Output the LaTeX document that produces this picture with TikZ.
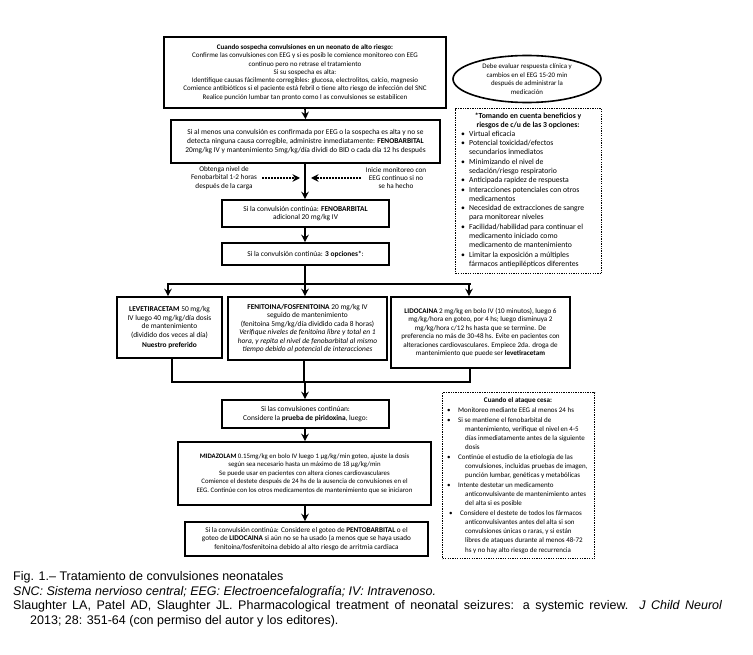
\documentclass[tikz,border=0pt]{standalone}
\usepackage{fontspec}
\setmainfont{Carlito}
\newfontfamily\capfont{Liberation Sans}
\usetikzlibrary{arrows.meta,shapes.geometric,calc}
\newcommand\fs{\fontsize{7}{8.3}\selectfont}
\newcommand\fsb{\fontsize{7.4}{8.6}\selectfont}
\newcommand\bA{\hspace*{3pt}\makebox[8pt][l]{\textbullet}}
\newcommand\bB{\hspace*{1pt}\makebox[9pt][l]{\textbullet}}
\newcommand\cB{\hspace*{7pt}}
\begin{document}
\begin{tikzpicture}[x=1pt,y=-1pt,
  box/.style={draw, line width=1.6pt, align=center, inner sep=1pt, font=\fs},
  dbox/.style={draw, line width=1.4pt, dash pattern=on 1.3pt off 1.1pt},
  arr/.style={line width=1.6pt, -{Stealth[length=7.5pt,width=7.5pt,inset=2.5pt]}},
  ln/.style={line width=1.6pt},
  darr/.style={line width=1.5pt, dash pattern=on 2pt off 1pt, -{Stealth[length=7.5pt,width=7.5pt,inset=2.5pt]}},
  txt/.style={align=center, inner sep=0pt, font=\fontsize{7.2}{8.4}\selectfont},
  captxt/.style={anchor=base west, inner sep=0pt, font=\capfont\fontsize{12.5}{14}\selectfont}
]
\useasboundingbox (0,0) rectangle (753,655);
\fill[white] (0,0) rectangle (753,655);

% top box
\node[box, minimum width=282, minimum height=71] (b1) at (305,72.5) {%
\textbf{Cuando sospecha convulsiones en un neonato de alto riesgo:}\\
Confirme las convulsiones con EEG y si es posib le comience monitoreo con EEG\\
continuo pero no retrase el tratamiento\\
Si su sospecha es alta:\\
Identifique causas fácilmente corregibles: glucosa, electrolitos, calcio, magnesio\\
Comience antibióticos si el paciente está febril o tiene alto riesgo de infección del SNC\\
Realice punción lumbar tan pronto como l as convulsiones se estabilicen};

% ellipse
\node[ellipse, draw, line width=1.6pt, minimum width=148, minimum height=47, inner sep=0pt, align=center, font=\fontsize{6.9}{8.7}\selectfont] (ell) at (527,79) {%
Debe evaluar respuesta clínica y\\
cambios en el EEG 15-20 min\\
después de administrar la\\
medicación};

% dotted box A
\node[dbox, minimum width=146, minimum height=165, anchor=north west, inner sep=0pt] (dA) at (455,108) {};
\node[align=center, inner sep=0pt, anchor=north, font=\fontsize{7.7}{8.8}\selectfont\bfseries] (dAh) at (528,112.5) {*Tomando en cuenta beneficios y\\riesgos de c/u de las 3 opciones:};
\node[inner sep=0pt, anchor=north west] (dAt) at (458,129.5) {\fontsize{7.7}{9.3}\selectfont
\begin{tabular}{@{}l@{}l@{}}
\bA & Virtual eficacia\\
\bA & Potencial toxicidad/efectos\\
 & secundarios inmediatos\\
\bA & Minimizando el nivel de\\
 & sedación/riesgo respiratorio\\
\bA & Anticipada rapidez de respuesta\\
\bA & Interacciones potenciales con otros\\
 & medicamentos\\
\bA & Necesidad de extracciones de sangre\\
 & para monitorear niveles\\
\bA & Facilidad/habilidad para continuar el\\
 & medicamento iniciado como\\
 & medicamento de mantenimiento\\
\bA & Limitar la exposición a múltiples\\
 & fármacos antiepilépticos diferentes
\end{tabular}};

% box 2
\node[box, font=\fsb, minimum width=269, minimum height=43] (b2) at (305.5,141.5) {%
Si al menos una convulsión es confirmada por EEG o la sospecha es alta y no se\\
detecta ninguna causa corregible, administre inmediatamente: \textbf{FENOBARBITAL}\\
20mg/kg IV y mantenimiento 5mg/kg/día dividi do BID o cada día 12 hs después};

% side texts
\node[txt] (lt) at (224,178) {Obtenga nivel de\\Fenobarbital 1-2 horas\\después de la carga};
\node[txt] (rt) at (396,178) {Inicie monitoreo con\\EEG continuo si no\\se ha hecho};

% box 3, 4
\node[box, font=\fsb, minimum width=167, minimum height=27] (b3) at (305.5,213.5) {%
Si la convulsión continúa: \textbf{FENOBARBITAL}\\adicional 20 mg/kg IV};
\node[box, font=\fsb, minimum width=167, minimum height=22] (b4) at (305.5,254) {%
Si la convulsión continúa: \textbf{3 opciones*}:};

% three options
\node[box, font=\fsb, minimum width=105, minimum height=61] (lev) at (169.5,327.5) {%
\textbf{LEVETIRACETAM} 50 mg/kg\\
IV luego 40 mg/kg/día dosis\\
de mantenimiento\\
(dividido dos veces al día)\\[1pt]
\textbf{Nuestro preferido}};
\node[box, font=\fsb, minimum width=159, minimum height=63] (fen) at (307.5,328.5) {%
\textbf{FENITOINA/FOSFENITOINA} 20 mg/kg IV\\
seguido de mantenimiento\\
(fenitoina 5mg/kg/día dividido cada 8 horas)\\
\textit{Verifique niveles de fenitoina libre y total en 1}\\
\textit{hora, y repita el nivel de fenobarbital al mismo}\\
\textit{tiempo debido al potencial de interacciones}};
\node[box, font=\fontsize{7.1}{8.5}\selectfont, minimum width=179, minimum height=71] (lid) at (480.5,332.5) {%
\textbf{LIDOCAINA} 2 mg/kg en bolo IV (10 minutos), luego 6\\
mg/kg/hora en goteo, por 4 hs; luego disminuya 2\\
mg/kg/hora c/12 hs hasta que se termine. De\\
preferencia no más de 30-48 hs. Evite en pacientes con\\
alteraciones cardiovasculares. Empiece 2da. droga de\\
mantenimiento que puede ser \textbf{levetiracetam}};

% lower boxes
\node[box, font=\fsb, minimum width=167, minimum height=28] (b5) at (305.5,414) {%
Si las convulsiones continúan:\\
Considere la \textbf{prueba de piridoxina}, luego:};
\node[box, font=\fontsize{6.8}{8.6}\selectfont, minimum width=253, minimum height=63] (b6) at (304.5,473.5) {%
\textbf{MIDAZOLAM} 0.15mg/kg en bolo IV luego 1 µg/kg/min goteo, ajuste la dosis\\
según sea necesario hasta un máximo de 18 µg/kg/min\\
Se puede usar en pacientes con altera ciones cardiovasculares\\
Comience el destete después de 24 hs de la ausencia de convulsiones en el\\
EEG. Continúe con los otros medicamentos de mantenimiento que se iniciaron};
\node[box, font=\fontsize{7.2}{8.6}\selectfont, minimum width=243, minimum height=34] (b7) at (306.5,539) {%
Si la convulsión continúa: Considere el goteo de \textbf{PENTOBARBITAL} o el\\
goteo de \textbf{LIDOCAINA} si aún no se ha usado (a menos que se haya usado\\
fenitoina/fosfenitoina debido al alto riesgo de arritmia cardiaca};

% dotted box B
\node[dbox, minimum width=152, minimum height=166, anchor=north west, inner sep=0pt] (dB) at (442,392) {};
\node[inner sep=0pt, anchor=north, font=\fontsize{7.1}{9.3}\selectfont\bfseries] (dBh) at (518,397) {Cuando el ataque cesa:};
\node[inner sep=0pt, anchor=north west] (dBt) at (446,406) {\fontsize{7}{9.3}\selectfont
\begin{tabular}{@{}l@{}l@{}}
\bB & Monitoreo mediante EEG al menos 24 hs\\
\bB & Si se mantiene el fenobarbital de\\
 & \cB mantenimiento, verifique el nivel en 4-5\\
 & \cB días inmediatamente antes de la siguiente\\
 & \cB dosis\\
\bB & Continúe el estudio de la etiología de las\\
 & \cB convulsiones, incluidas pruebas de imagen,\\
 & \cB punción lumbar, genéticas y metabólicas\\
\bB & Intente destetar un medicamento\\
 & \cB anticonvulsivante de mantenimiento antes\\
 & \cB del alta si es posible\\
\hspace*{2pt}\bB & \hspace*{2pt}Considere el destete de todos los fármacos\\
 & \cB anticonvulsivantes antes del alta si son\\
 & \cB convulsiones únicas o raras, y si están\\
 & \cB libres de ataques durante al menos 48-72\\
 & \cB hs y no hay alto riesgo de recurrencia
\end{tabular}};

% connectors
\draw[arr] (b1.south) -- (b2.north);
\draw[arr] (b2.south -| 305,0) -- (b3.north -| 305,0);
\coordinate (ltip) at (300,178);
\coordinate (rtip) at (311,178);
\draw[darr] ([xshift=5pt]lt.east) -- (ltip);
\draw[darr] ([xshift=-5pt]rt.west) -- (rtip);
\draw[arr] (b3.south -| 305,0) -- (b4.north -| 305,0);

\coordinate (jc) at (305,284);
\coordinate (jl) at (168,284);
\coordinate (jr) at (469,284);
\draw[ln] (b4.south -| jc) -- (jc);
\draw[ln] ([xshift=-0.8pt]jl) -- ([xshift=1.5pt]jr);
\draw[arr] (jl) -- (jl |- lev.north);
\draw[arr] (jc) -- (jc |- fen.north);
\draw[arr] (jr) -- (jr |- lid.north);

\coordinate (kl) at (172,382);
\coordinate (kc) at (304,382);
\coordinate (kr) at (470,382);
\coordinate (kd) at (305,382);
\draw[ln] (kl |- lev.south) -- (kl);
\draw[ln] (kc |- fen.south) -- (kc);
\draw[ln] (kr |- lid.south) -- (kr);
\draw[ln] ([xshift=-0.8pt]kl) -- ([xshift=0.8pt]kr);
\draw[arr] (kd) -- (kd |- b5.north);
\draw[arr] (b5.south -| kd) -- (b6.north -| kd);
\draw[arr] (b6.south -| kd) -- (b7.north -| kd);

% caption
\node[captxt] (c1) at (13,580) {Fig. 1.– Tratamiento de convulsiones neonatales};
\node[captxt] (c2) at (13,595) {\itshape SNC: Sistema nervioso central; EEG: Electroencefalografía; IV: Intravenoso.};
\node[captxt] (c3) at (13,609.5) {\makebox[709pt][s]{Slaughter LA, Patel AD, Slaughter JL. Pharmacological treatment of neonatal seizures: a systemic review. \textit{J Child Neurol}}};
\node[captxt] (c4) at (30,624) {2013; 28: 351-64 (con permiso del autor y los editores).};
\end{tikzpicture}
\end{document}
